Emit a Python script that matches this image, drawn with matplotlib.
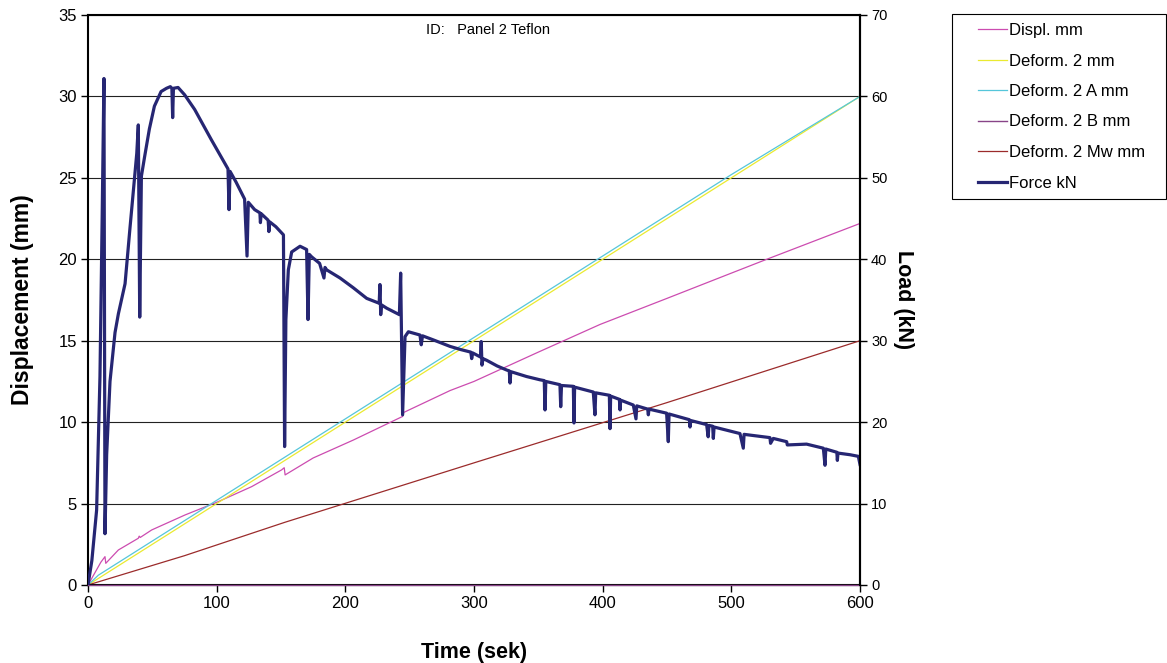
import matplotlib
matplotlib.use("Agg")
import matplotlib.pyplot as plt
from matplotlib.patches import Rectangle

plt.rcParams['font.family'] = ['Liberation Sans', 'DejaVu Sans']

# ---------------- data ----------------
title_text = "ID:   Panel 2 Teflon"
x_label = "Time (sek)"
y_label_left = "Displacement (mm)"
y_label_right = "Load (kN)"

legend_labels = ["Displ. mm", "Deform. 2 mm", "Deform. 2 A mm",
                 "Deform. 2 B mm", "Deform. 2 Mw mm", "Force kN"]

# Displ. mm
displ_t = [0, 5, 10, 13.2, 13.8, 23.6, 39.1, 39.8, 40.6, 49.5, 75.4, 101.3, 127.2,
           150.5, 152.5, 153.2, 175, 206.2, 244.5, 245.5, 281.4, 300, 350, 398,
           450, 500, 527.5, 600]
displ_v = [0, 0.7, 1.4, 1.74, 1.33, 2.15, 2.87, 3.0, 2.92, 3.38, 4.3, 5.12, 6.04,
           7.07, 7.2, 6.76, 7.8, 8.9, 10.35, 10.6, 11.94, 12.5, 14.3, 16.0,
           17.6, 19.15, 20.0, 22.2]

# Deform. 2 mm
def2_t = [0, 600]
def2_v = [0, 30.0]

# Deform. 2 A mm
def2a_t = [0, 8, 100, 200, 300, 400, 500, 600]
def2a_v = [0, 0.6, 5.2, 10.2, 15.2, 20.2, 25.2, 30.0]

# Deform. 2 B mm
def2b_t = [0, 600]
def2b_v = [0, 0]

# Deform. 2 Mw mm
def2mw_t = [0, 75, 153, 300, 450, 600]
def2mw_v = [0, 1.8, 3.85, 7.5, 11.2, 15.0]

# Force kN
force_t = [0, 3, 6.7, 9.3, 11.0, 12.4, 13.2, 14.5, 17.1, 21, 23.6, 28.8, 32.6,
           37.9, 39.1, 40.2, 41.5, 43.9, 47.7, 51.6, 56.8, 61, 64, 65.2, 65.8,
           66.4, 70, 75.1, 82.9, 95.8, 108.8, 109.6, 110.4, 115, 121.7, 123.6,
           124.6, 129.5, 133.6, 134.0, 134.6, 140.0, 140.6, 141.2, 146, 151.9,
           152.8, 153.8, 155.7, 158.3, 164.8, 169.9, 171.0, 172.0, 173.8, 180,
           183.4, 184.2, 185.5, 195.9, 206.2, 216.6, 226.3, 226.9, 227.5, 228.1,
           232.1, 242, 243.0, 244.5, 246.4, 249, 258, 259.0, 260, 268.4, 281.4,
           290, 297.5, 298.2, 299, 305.0, 305.6, 306.2, 307, 309.8, 318, 325.4,
           327.4, 328.0, 328.6, 340.9, 351.3, 354.6, 355.2, 355.8, 366.8, 367.4,
           368.0, 377.2, 377.7, 378.2, 392.7, 394.0, 394.6, 405.2, 405.7, 406.2,
           413.0, 413.5, 414.0, 423.8, 425.9, 426.5, 435.0, 435.5, 436.0, 449.7,
           451.0, 451.6, 467.4, 467.9, 468.4, 480.8, 482.0, 482.6, 485.5, 486.0,
           486.6, 506.7, 509.3, 509.9, 530.0, 530.5, 532.6, 543.0, 543.5, 558.5,
           571.5, 572.8, 573.4, 582.0, 582.4, 582.9, 592.2, 598.7, 600]
force_v = [0, 3, 9.2, 25.6, 45, 62.2, 6.3, 16, 25, 31, 33.3, 37, 43.8,
           53, 56.5, 32.9, 50.2, 52.5, 56, 58.8, 60.6, 61.0, 61.2, 61.0, 57.4,
           61.0, 61.1, 60.2, 58.4, 54.7, 51.1, 46.1, 50.8, 49.5, 47.4, 40.4,
           47.0, 46.1, 45.7, 44.5, 45.6, 44.8, 43.4, 44.6, 44.0, 43.0,
           17.0, 32.6, 38.7, 40.9, 41.6, 41.2, 32.6, 40.6, 40.3, 39.5,
           37.7, 39.0, 38.7, 37.7, 36.5, 35.2, 34.6, 36.9, 33.2, 34.4,
           34.0, 33.2, 38.3, 20.9, 30.5, 31.1, 30.7, 29.5, 30.6, 30.1, 29.3,
           28.9, 28.6, 27.8, 28.5, 28.0, 29.9, 27.0, 27.8, 27.6, 26.9, 26.4,
           26.3, 24.8, 26.2, 25.6, 25.2, 25.1, 21.5, 25.0, 24.6, 21.9,
           24.5, 24.4, 19.9, 24.3, 23.7, 20.9, 23.6, 23.3, 19.2, 23.2,
           22.8, 21.5, 22.7, 22.1, 20.4, 22.0, 21.6, 20.9, 21.6, 21.1,
           17.6, 21.0, 20.3, 19.4, 20.2, 19.7, 18.2, 19.6, 19.5, 18.0,
           19.4, 18.6, 16.8, 18.5, 18.1, 17.4, 18.0, 17.6, 17.2, 17.3,
           16.8, 14.7, 16.7, 16.3, 15.3, 16.2, 16.0, 15.8, 14.8]

# ---------------- styles ----------------
c_displ = '#CC4CB0'
c_def2 = '#EAEA30'
c_def2a = '#55C6DA'
c_def2b = '#884488'
c_mw = '#9B2B2B'
c_force = '#262673'

W, H = 1167, 663
fig = plt.figure(figsize=(W/100, H/100), dpi=100)
ax = fig.add_axes([88/W, 1-585/H, (860-88)/W, (585-15)/H])
ax2 = ax.twinx()

ax.set_xlim(0, 600)
ax.set_ylim(0, 35)
ax2.set_ylim(0, 70)
ax.set_xticks(range(0, 601, 100))
ax.set_yticks(range(0, 36, 5))
ax2.set_yticks(range(0, 71, 10))

ax.grid(axis='y', color='#222222', linewidth=0.8)
ax.set_axisbelow(True)

l1, = ax.plot(displ_t, displ_v, color=c_displ, lw=0.9)
l2, = ax.plot(def2_t, def2_v, color=c_def2, lw=0.9)
l3, = ax.plot(def2a_t, def2a_v, color=c_def2a, lw=0.9)
l4, = ax.plot(def2b_t, def2b_v, color=c_def2b, lw=1.0, clip_on=False, zorder=3)
l5, = ax.plot(def2mw_t, def2mw_v, color=c_mw, lw=0.9)
l6, = ax2.plot(force_t, force_v, color=c_force, lw=2.3, solid_joinstyle='round')

for s in ax.spines.values():
    s.set_linewidth(1.5)
    s.set_color('black')
ax.spines['bottom'].set_zorder(2)
for name, s in ax2.spines.items():
    if name == 'right':
        s.set_linewidth(1.5)
        s.set_color('black')
    else:
        s.set_visible(False)

ax.tick_params(axis='both', which='major', direction='out', length=5, width=1,
               labelsize=12, colors='black', pad=3)
ax2.tick_params(axis='y', direction='out', length=5, width=1, labelsize=10.5, pad=3)

ax.set_xlabel(x_label, fontsize=15.5, fontweight='bold')
ax.set_ylabel(y_label_left, fontsize=16.5, fontweight='bold')
ax2.set_ylabel(y_label_right, fontsize=15.5, fontweight='bold', rotation=-90, va='bottom')
ax.xaxis.set_label_coords(0.5, -0.100)
ax.yaxis.set_label_coords(-0.070, 0.5)
ax2.yaxis.set_label_coords(1.043, 0.5)

fig.text(488/W, 1-30/H, title_text, fontsize=10.5, ha='center', va='center')

# legend box
fig.patches.append(Rectangle((952/W, 1-199/H), 214/W, 185/H, transform=fig.transFigure,
                             facecolor='white', edgecolor='black', linewidth=0.8,
                             zorder=1))
leg = fig.legend([l1, l2, l3, l4, l5, l6], legend_labels, loc='upper left',
                 bbox_to_anchor=(978/W, 1-23/H), borderaxespad=0, borderpad=0,
                 fontsize=12, frameon=False, handlelength=1.75, handletextpad=0.1,
                 labelspacing=0.93)
leg.set_zorder(5)

fig.savefig('out.png', dpi=100)
